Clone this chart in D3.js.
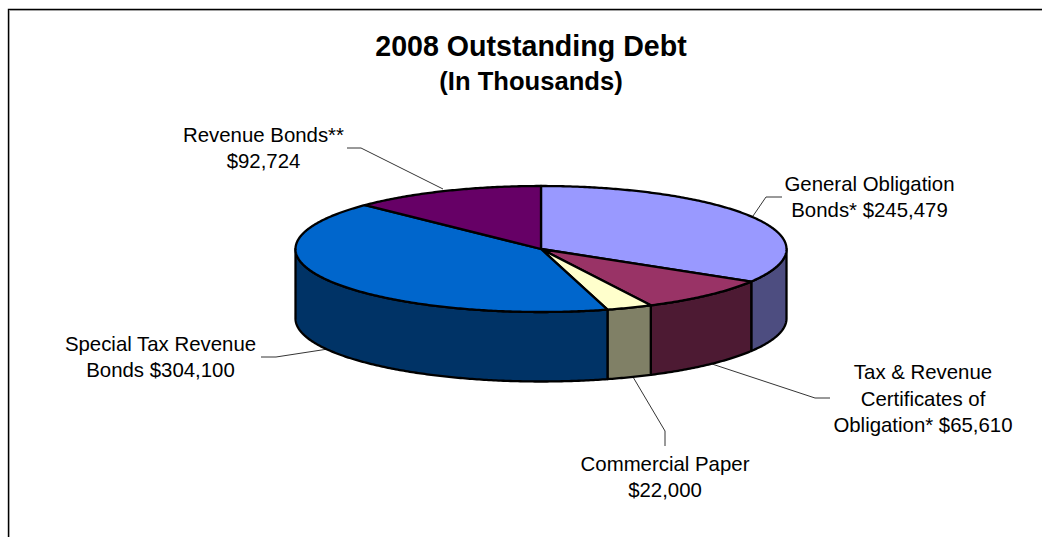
<!DOCTYPE html>
<html>
<head>
<meta charset="utf-8">
<script src="https://cdnjs.cloudflare.com/ajax/libs/d3/7.8.5/d3.min.js"></script>
<style>
  html, body { margin: 0; padding: 0; background: #fff; }
  svg { display: block; }
  text { font-family: "Liberation Sans", Arial, sans-serif; fill: #000; }
</style>
</head>
<body>
<svg id="chart" width="1042" height="537"></svg>
<script>
// Debt categories, in clockwise order starting from twelve o'clock
const categories = [
  "General Obligation Bonds*",
  "Tax & Revenue Certificates of Obligation*",
  "Commercial Paper",
  "Special Tax Revenue Bonds",
  "Revenue Bonds**"
];
const amounts = [245479, 65610, 22000, 304100, 92724];
const topColors = ["#9999FF", "#993366", "#FFFFCC", "#0066CC", "#660066"];
const wallColors = ["#4D4D80", "#4D1A33", "#808066", "#003366", "#330033"];

const titleLines = ["2008 Outstanding Debt", "(In Thousands)"];

// Label text lines: [text, centre x, baseline y]
const labelLines = [
  ["General Obligation", 869.5, 190.5],
  ["Bonds* $245,479", 869.5, 216.5],
  ["Tax & Revenue", 923, 379],
  ["Certificates of", 923, 405.5],
  ["Obligation* $65,610", 923, 431.5],
  ["Commercial Paper", 665, 470.5],
  ["$22,000", 665, 496.5],
  ["Special Tax Revenue", 160.5, 350.5],
  ["Bonds $304,100", 160.5, 376.5],
  ["Revenue Bonds**", 263.5, 141.5],
  ["$92,724", 263.5, 167.5]
];

// Leader polylines, one per label
const leaders = [
  [[753, 216], [766, 197], [782, 197]],
  [[712, 364], [815, 398], [830, 398]],
  [[633, 377], [665, 431], [665, 446]],
  [[328, 349], [276, 357], [261, 357]],
  [[443, 189], [361, 148], [347, 148]]
];

const cx = 541, cy = 249, rx = 245.5, ry = 63, depth = 69.5;

const svg = d3.select("#chart");

// Unit-circle coordinates are mapped onto the tilted ellipse
const xScale = d3.scaleLinear().domain([-1, 1]).range([cx - rx, cx + rx]);
const yScale = d3.scaleLinear().domain([-1, 1]).range([cy - ry, cy + ry]);

const pie = d3.pie().sort(null);
const slices = pie(amounts);

const rimPoint = (a, drop = 0) => [xScale(Math.sin(a)), yScale(-Math.cos(a)) + drop];
const sampleRim = (a0, a1, drop = 0) => {
  const n = Math.max(2, Math.ceil((a1 - a0) / 0.01));
  return d3.range(n + 1).map(i => rimPoint(a0 + (a1 - a0) * i / n, drop));
};
const line = d3.line();

// Chart frame: black rule with a soft grey inner edge, open at the right and bottom
const frame = svg.append("g").attr("fill", "none");
frame.append("path").attr("d", "M1042,9.5H8.5V537").attr("stroke", "#000").attr("stroke-width", 1.4);
frame.append("path").attr("d", "M1042,10.5H9.5V537").attr("stroke", "#999").attr("stroke-width", 0.8);

// Leaders sit beneath the pie
svg.append("g").selectAll("path").data(leaders).join("path")
  .attr("d", line)
  .attr("fill", "none")
  .attr("stroke", "#000")
  .attr("stroke-width", 0.8);

// Front wall: only the part of each slice between 3 and 9 o'clock is visible
const wallFrom = Math.PI / 2, wallTo = Math.PI * 3 / 2;
svg.append("g").selectAll("path")
  .data(slices.filter(s => s.endAngle > wallFrom && s.startAngle < wallTo))
  .join("path")
  .attr("d", s => {
    const a0 = Math.max(s.startAngle, wallFrom), a1 = Math.min(s.endAngle, wallTo);
    return line([...sampleRim(a0, a1), ...sampleRim(a0, a1, depth).reverse()]) + "Z";
  })
  .attr("fill", s => wallColors[s.index])
  .attr("stroke", "#000")
  .attr("stroke-width", 2.3)
  .attr("stroke-linejoin", "round");

// Top face
svg.append("g").selectAll("path").data(slices).join("path")
  .attr("d", s => line([[cx, cy], ...sampleRim(s.startAngle, s.endAngle)]) + "Z")
  .attr("fill", s => topColors[s.index])
  .attr("stroke", "#000")
  .attr("stroke-width", 2.3)
  .attr("stroke-linejoin", "round");

// Title
svg.append("g").attr("text-anchor", "middle").selectAll("text").data(titleLines).join("text")
  .attr("x", 531)
  .attr("y", (d, i) => i === 0 ? 55.5 : 90)
  .attr("font-size", (d, i) => i === 0 ? 28.6 : 25.6)
  .attr("font-weight", "bold")
  .text(d => d);

// Slice labels
svg.append("g").attr("text-anchor", "middle").selectAll("text").data(labelLines).join("text")
  .attr("x", d => d[1])
  .attr("y", d => d[2])
  .attr("font-size", 20.4)
  .text(d => d[0]);
</script>
</body>
</html>
